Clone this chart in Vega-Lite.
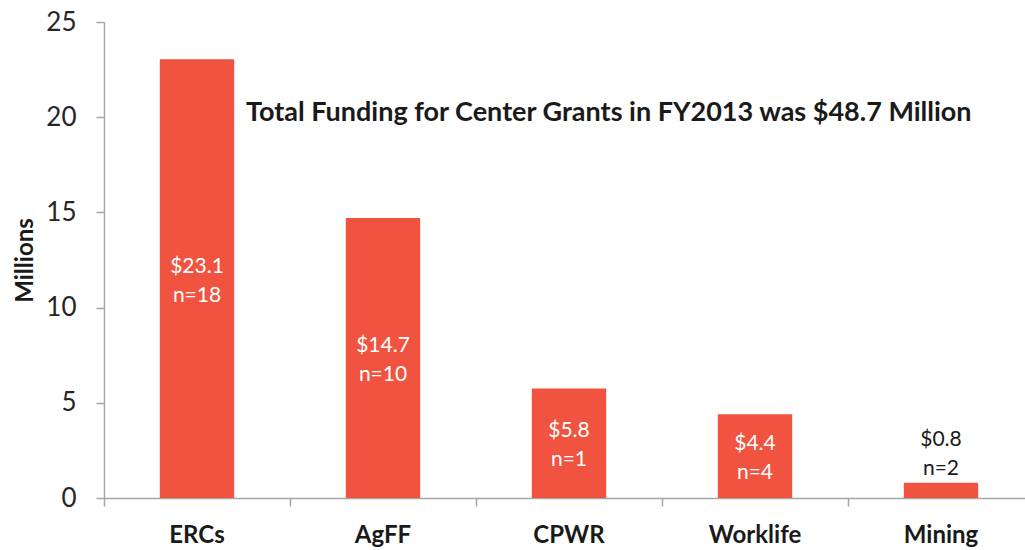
{
  "$schema": "https://vega.github.io/schema/vega-lite/v6.json",
  "autosize": {"type": "none"},
  "padding": {"left": 104, "top": 22, "right": 0, "bottom": 52},
  "width": 921,
  "height": 476,
  "background": "white",
  "title": {
    "text": "Total Funding for Center Grants in FY2013 was $48.7 Million",
    "anchor": "start",
    "frame": "group",
    "orient": "top",
    "offset": 0,
    "dx": 142,
    "dy": 118,
    "font": "Lato",
    "fontSize": 27,
    "fontWeight": "bold",
    "color": "#1a1a1a"
  },
  "data": {
    "values": [
      {"program": "ERCs", "value": 23.05, "amount": "$23.1", "n": "n=18"},
      {"program": "AgFF", "value": 14.7, "amount": "$14.7", "n": "n=10"},
      {"program": "CPWR", "value": 5.75, "amount": "$5.8", "n": "n=1"},
      {"program": "Worklife", "value": 4.4, "amount": "$4.4", "n": "n=4"},
      {"program": "Mining", "value": 0.8, "amount": "$0.8", "n": "n=2"}
    ]
  },
  "transform": [
    {"calculate": "[datum.amount, datum.n]", "as": "lines"},
    {"calculate": "datum.value / 2", "as": "mid"}
  ],
  "encoding": {
    "x": {
      "field": "program",
      "type": "nominal",
      "sort": null,
      "scale": {"range": [0, 930], "paddingInner": 0, "paddingOuter": 0},
      "axis": {
        "title": null,
        "labelAngle": 0,
        "bandPosition": 0,
        "labelFont": "Lato",
        "labelFontSize": 24,
        "labelFontWeight": "bold",
        "labelColor": "#1a1a1a",
        "labelPadding": 17,
        "tickSize": 8,
        "tickColor": "#a6a6a6",
        "tickWidth": 1.5,
        "domainColor": "#a6a6a6",
        "domainWidth": 1.5,
        "grid": false
      }
    }
  },
  "layer": [
    {
      "mark": {"type": "bar", "color": "#F05440", "width": {"band": 0.4}},
      "encoding": {
        "y": {
          "field": "value",
          "type": "quantitative",
          "scale": {"domain": [0, 25], "nice": false},
          "axis": {
            "title": "Millions",
            "titleFont": "Lato",
            "titleFontSize": 24,
            "titleFontWeight": "bold",
            "titleColor": "#1a1a1a",
            "titlePadding": 8,
            "values": [0, 5, 10, 15, 20, 25],
            "labelFont": "Lato",
            "labelFontSize": 26,
            "labelColor": "#262626",
            "labelPadding": 20,
            "tickSize": 8,
            "tickColor": "#a6a6a6",
            "tickWidth": 1.5,
            "domainColor": "#a6a6a6",
            "domainWidth": 1.5,
            "grid": false
          }
        }
      }
    },
    {
      "transform": [{"filter": "datum.program != 'Mining'"}],
      "mark": {"type": "text", "font": "Lato", "fontSize": 21, "color": "white", "lineHeight": 29, "baseline": "middle", "align": "center", "dy": -12},
      "encoding": {
        "y": {"field": "mid", "type": "quantitative"},
        "text": {"field": "lines"}
      }
    },
    {
      "transform": [{"filter": "datum.program == 'Mining'"}],
      "mark": {"type": "text", "font": "Lato", "fontSize": 21, "color": "#1a1a1a", "lineHeight": 29, "baseline": "bottom", "align": "center", "dy": -33},
      "encoding": {
        "y": {"field": "value", "type": "quantitative"},
        "text": {"field": "lines"}
      }
    }
  ],
  "config": {"view": {"stroke": null}}
}
